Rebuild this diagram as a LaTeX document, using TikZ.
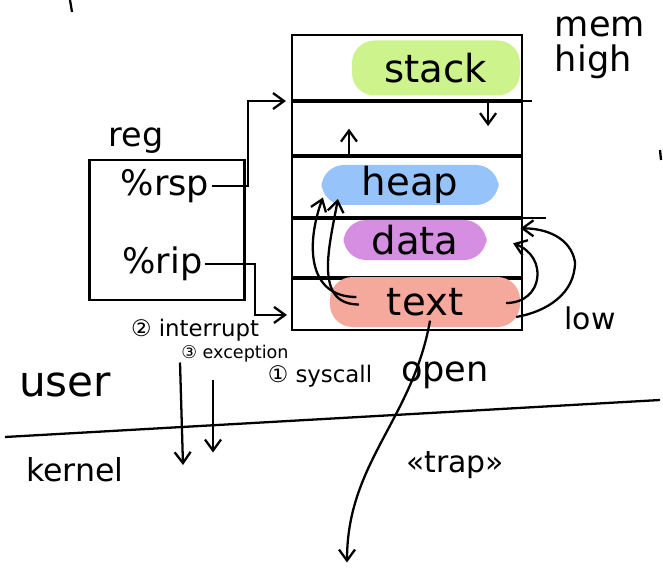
\documentclass[tikz,border=0pt]{standalone}
\usepackage{fontspec}
\setmainfont{DejaVu Sans}
\usetikzlibrary{positioning,arrows.meta}
\definecolor{stackgreen}{RGB}{205,244,140}
\definecolor{heapblue}{RGB}{150,196,250}
\definecolor{datapurple}{RGB}{214,142,226}
\definecolor{textred}{RGB}{245,168,156}
\tikzset{
  cell/.style={draw, line width=1.2pt, minimum width=4.6cm, inner sep=0pt},
  blob/.style={rounded corners=0.45cm, inner sep=0pt, font=\fontsize{22}{26}\selectfont},
  hand/.style={font=\fontsize{#1}{#1}\selectfont, inner sep=1pt},
  wire/.style={line width=1.3pt, -{Straight Barb[length=2.2mm,width=3.2mm]}}
}
\begin{document}
\begin{tikzpicture}[line width=1.3pt]
  \useasboundingbox (0,0) rectangle (13.26,-11.38);
  % memory layout
  \node[cell, minimum height=1.3cm] (stack) at (8.14,-1.35) {};
  \node[cell, minimum height=1.06cm, below=0pt of stack] (free) {};
  \node[cell, minimum height=1.2cm, below=0pt of free] (heap) {};
  \node[cell, minimum height=1.16cm, below=0pt of heap] (data) {};
  \node[cell, minimum height=1.02cm, below=0pt of data] (text) {};
  \draw (stack.south east) -- ++(0.18,0);
  \draw (heap.south east) -- ++(0.46,0);
  % coloured segments
  \node[blob, fill=stackgreen, minimum width=3.36cm, minimum height=1.1cm] (stacklbl) at (8.72,-1.36) {stack};
  \node[blob, fill=heapblue, minimum width=3.54cm, minimum height=0.8cm] (heaplbl) at (8.2,-3.7) {heap};
  \node[blob, fill=datapurple, minimum width=2.86cm, minimum height=0.8cm] (datalbl) at (8.3,-4.8) {data};
  \node[blob, fill=textred, minimum width=3.8cm, minimum height=1.0cm] (textlbl) at (8.5,-6.04) {text};
  % growth
  \draw[wire] ([xshift=-0.7cm]stack.south east) -- ++(0,-0.5);
  \draw[wire] ([xshift=1.16cm,yshift=0.05cm]free.south west) -- ++(0,0.5);
  % registers
  \node[draw, line width=1.3pt, minimum width=3.1cm, minimum height=2.8cm] (regbox) at (3.34,-4.6) {};
  \node[hand=19, above right=0.05cm and 0.35cm of regbox.north west] (reglbl) {reg};
  \node[hand=20] (rsp) at (3.3,-3.72) {\%rsp};
  \node[hand=20] (rip) at (3.25,-5.28) {\%rip};
  \coordinate (bendA) at (4.96,-3.7);
  \coordinate (bendB) at (5.1,-5.3);
  \draw[wire] (rsp.east) -- (rsp.east -| bendA) |- ([xshift=-0.1cm]stack.south west);
  \draw[wire] (rip.east) -- (rip.east -| bendB) |- ([xshift=-0.08cm,yshift=-0.2cm]text.west);
  % jumps inside the program
  \draw[wire] ([xshift=0.55cm,yshift=0.1cm]textlbl.west) to[out=180,in=250,looseness=1.2] ([xshift=0.05cm,yshift=-0.25cm]heaplbl.west);
  \draw[wire] ([xshift=0.6cm,yshift=-0.05cm]textlbl.west) to[out=180,in=260,looseness=1.1] ([xshift=0.35cm,yshift=-0.28cm]heaplbl.west);
  \draw[wire] ([xshift=-0.3cm,yshift=-0.02cm]textlbl.east) to[out=0,in=-20,looseness=1.6] ([xshift=-0.2cm,yshift=0.1cm]data.east);
  \draw[wire] ([xshift=-0.1cm,yshift=-0.3cm]textlbl.east) to[out=10,in=-90] (11.5,-5.24) to[out=100,in=0] ([xshift=-0.05cm,yshift=0.4cm]data.east);
  % trap into kernel
  \coordinate (trapend) at (6.94,-11.25);
  \draw[wire] ([xshift=0.1cm,yshift=0.15cm]textlbl.south) to[out=260,in=90] (trapend);
  % labels
  \node[hand=20, align=left] (memhigh) at (12.0,-0.95) {mem\\high};
  \node[hand=17] (low) at (11.8,-6.36) {low};
  \node[hand=13] (intr) at (3.9,-6.6) {② interrupt};
  \node[hand=10] (exc) at (4.7,-7.08) {③ exception};
  \node[hand=13] (sysc) at (6.4,-7.52) {① syscall};
  \node[hand=24] (user) at (1.3,-7.7) {user};
  \node[hand=20] (open) at (8.9,-7.5) {open};
  \node[hand=18] (kernel) at (1.5,-9.4) {kernel};
  \node[hand=17] (trap) at (9.1,-9.3) {«trap»};
  % user / kernel border
  \draw (0.1,-8.74) -- (13.2,-8.0);
  \coordinate (k1) at (3.66,-9.3);
  \coordinate (k2) at (4.26,-9.05);
  \draw[wire] (3.6,-7.25) -- (k1);
  \draw[wire] ([yshift=-0.3cm]exc.south -| k2) -- (k2);
  % stray strokes
  \draw (1.4,0) -- (1.44,-0.24);
  \draw (13.2,-3.0) -- (13.22,-3.2);
\end{tikzpicture}
\end{document}
